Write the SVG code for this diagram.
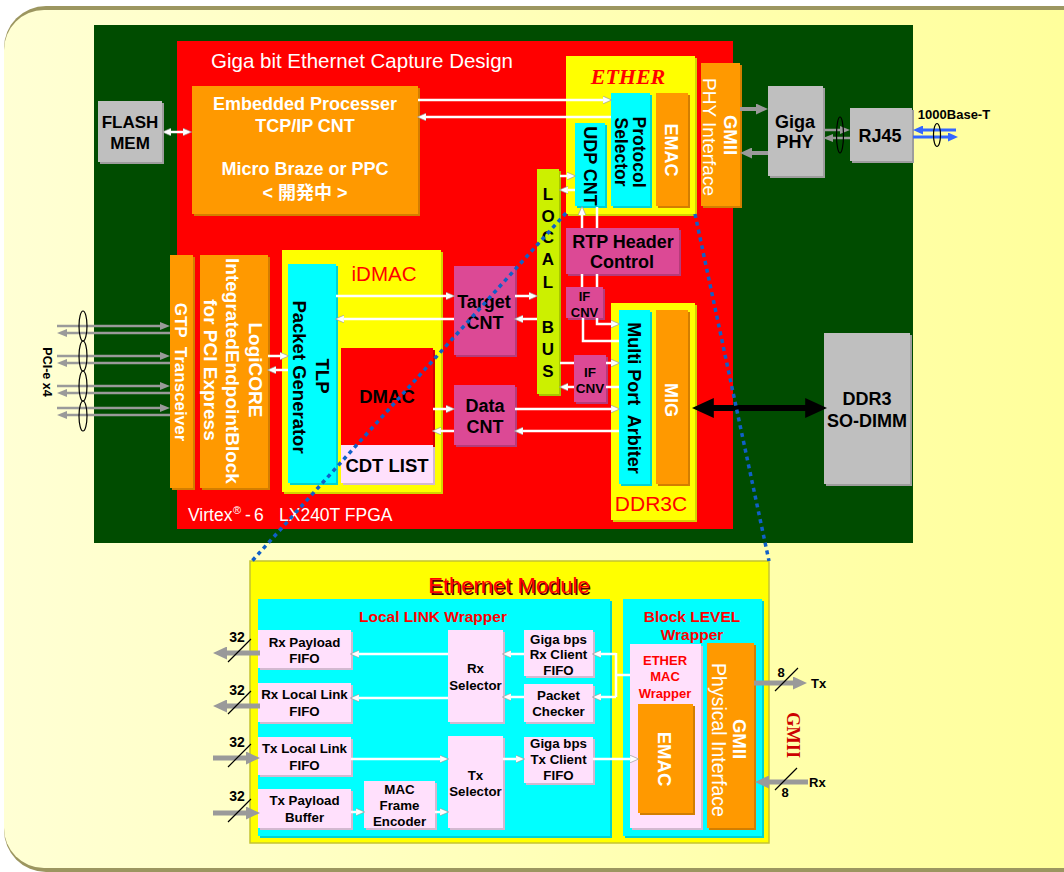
<svg xmlns="http://www.w3.org/2000/svg" width="1064" height="872" viewBox="0 0 1064 872">
<defs>
<style>
text{font-family:"Liberation Sans",Arial,"Noto Sans CJK JP",sans-serif}
.bx{filter:url(#sh)}
.o{fill:#FF9900}.cy{fill:#00FFFF}.ye{fill:#FFFF00}.gr{fill:#BFBFBF}.pk{fill:#DC4A95}.lp{fill:#FFE0FC}.lb{fill:#CCF000}
.b{font-weight:bold}.m{text-anchor:middle}.w{fill:#fff}.r{fill:#FF0000}.k{fill:#000}
.wl{fill:none;stroke:#fff;stroke-width:2.5}
.ah{marker-end:url(#aw)}
.gl{fill:none;stroke:#9A9A9A;stroke-width:4;marker-end:url(#ag)}
.gt{fill:none;stroke:#9A9A9A;stroke-width:2.5;marker-end:url(#ag2)}
.gb{fill:none;stroke:#9A9A9A;stroke-width:5;marker-end:url(#agb)}
.el{fill:none;stroke:#000;stroke-width:1.2}
.sl{stroke:#000;stroke-width:1.2}
.dot{fill:none;stroke:#1060C8;stroke-width:3.5;stroke-dasharray:4 4}
</style>
<linearGradient id="bg" x1="0" y1="0" x2="1" y2="0"><stop offset="0" stop-color="#FFFFD4"/><stop offset="1" stop-color="#FFFF99"/></linearGradient>
<filter id="sh" x="-0.2" y="-0.2" width="1.4" height="1.4">
<feColorMatrix in="SourceGraphic" type="matrix" values="0.65 0 0 0 0 0 0.65 0 0 0 0 0 0.65 0 0 0 0 0 1 0" result="d"/>
<feOffset in="d" dx="2" dy="2" result="o"/>
<feMerge><feMergeNode in="o"/><feMergeNode in="SourceGraphic"/></feMerge>
</filter>
<marker id="aw" viewBox="0 0 10 10" refX="6" refY="5" markerWidth="9" markerHeight="8" markerUnits="userSpaceOnUse" orient="auto-start-reverse" preserveAspectRatio="none"><path d="M0,0 L10,5 L0,10 Z" fill="#fff" stroke="#999" stroke-width="0.8"/></marker>
<marker id="ag" viewBox="0 0 10 10" refX="5" refY="5" markerWidth="12" markerHeight="11" markerUnits="userSpaceOnUse" orient="auto" preserveAspectRatio="none"><path d="M0,0 L10,5 L0,10 Z" fill="#9A9A9A"/></marker>
<marker id="ag2" viewBox="0 0 10 10" refX="5" refY="5" markerWidth="10" markerHeight="8" markerUnits="userSpaceOnUse" orient="auto" preserveAspectRatio="none"><path d="M0,0 L10,5 L0,10 Z" fill="#9A9A9A"/></marker>
<marker id="agb" viewBox="0 0 10 10" refX="5" refY="5" markerWidth="14" markerHeight="13" markerUnits="userSpaceOnUse" orient="auto" preserveAspectRatio="none"><path d="M0,0 L10,5 L0,10 Z" fill="#9A9A9A"/></marker>
<marker id="ab" viewBox="0 0 10 10" refX="5" refY="5" markerWidth="10" markerHeight="9" markerUnits="userSpaceOnUse" orient="auto" preserveAspectRatio="none"><path d="M0,0 L10,5 L0,10 Z" fill="#3366FF"/></marker>
<marker id="ak" viewBox="0 0 10 10" refX="4" refY="5" markerWidth="22" markerHeight="20" markerUnits="userSpaceOnUse" orient="auto-start-reverse" preserveAspectRatio="none"><path d="M0,0 L10,5 L0,10 Z" fill="#000"/></marker>
</defs>

<g id="background">
<rect x="4" y="6" width="1110" height="866" rx="42" fill="#9C9660"/>
<rect x="4" y="10" width="1110" height="858" rx="40" fill="url(#bg)"/>
<rect x="94" y="25" width="819" height="518" fill="#004C00"/>
<rect x="177" y="41" width="556" height="488" fill="#FF0000"/>
<text x="211" y="68" font-size="20.5" class="w">Giga bit Ethernet Capture Design</text>
<text x="188" y="521" font-size="17.5" class="w"><tspan>Virtex</tspan><tspan x="233" dy="-7" font-size="11">®</tspan><tspan x="245 254" dy="7">-6</tspan><tspan x="279">LX240T FPGA</tspan></text>
</g>

<g id="flash">
<rect x="98" y="101" width="64" height="61" class="gr bx"/>
<text x="130" y="128" font-size="17" class="b m">FLASH</text>
<text x="130" y="149" font-size="17" class="b m">MEM</text>
</g>
<g id="embedded">
<rect x="192" y="86" width="226" height="128" class="o bx"/>
<text x="305" y="110" font-size="18" class="b m w">Embedded Processer</text>
<text x="305" y="132" font-size="18" class="b m w">TCP/IP CNT</text>
<text x="305" y="175" font-size="18" class="b m w">Micro Braze or PPC</text>
<text x="305" y="199" font-size="18" class="b m w">&lt; 開発中 &gt;</text>
</g>
<g id="ether">
<rect x="566" y="56" width="129" height="158" class="ye bx"/>
<text x="628" y="84" font-size="22" font-weight="bold" font-style="italic" class="m r" style="font-family:'Liberation Serif',serif">ETHER</text>
</g>
<g id="protocol-selector">
<rect x="611" y="93" width="39" height="113" class="cy bx"/>
<text font-size="17.5" class="b m" transform="translate(639,152) rotate(90)" y="6.3">Protocol</text>
<text font-size="17.5" class="b m" transform="translate(621,152) rotate(90)" y="6.3">Selector</text>
</g>
<g id="emac-top">
<rect x="656" y="93" width="32" height="113" class="o bx"/>
<text font-size="18" class="b m w" transform="translate(671,150) rotate(90)" y="6.4">EMAC</text>
</g>
<g id="udp-cnt">
<rect x="575" y="123" width="30" height="83" class="cy bx"/>
<text font-size="18" class="b m" transform="translate(590,166) rotate(90)" y="6.4">UDP CNT</text>
</g>
<g id="gmii-phy-if">
<rect x="701" y="63" width="39" height="143" class="o bx"/>
<text font-size="18.5" class="b m w" transform="translate(731,135) rotate(90)" y="6.6">GMII</text>
<text font-size="19" class="m w" transform="translate(710,137) rotate(90)" y="6.8">PHY Interface</text>
</g>
<g id="giga-phy">
<rect x="768" y="86" width="55" height="90" class="gr bx"/>
<text x="795" y="128" font-size="18" class="b m">Giga</text>
<text x="795" y="148" font-size="18" class="b m">PHY</text>
</g>
<g id="rj45">
<rect x="850" y="108" width="62" height="53" class="gr bx"/>
<text x="880" y="142" font-size="18" class="b m">RJ45</text>
<text x="954" y="119" font-size="13" class="b m">1000Base-T</text>
</g>
<g id="pcie-label">
<text font-size="12.5" class="b m" transform="translate(47,372) rotate(90)" y="4.5">PCI-e x4</text>
</g>
<g id="gtp">
<rect x="170" y="255" width="23" height="233" class="o bx"/>
<text font-size="17" class="b m w" style="white-space:pre" transform="translate(181,372) rotate(90)" y="6.1">GTP  Transceiver</text>
</g>
<g id="logicore">
<rect x="200" y="255" width="68" height="233" class="o bx"/>
<text font-size="19" class="b m w" transform="translate(256,370) rotate(90)" y="6.8">LogiCORE</text>
<text font-size="19" class="b m w" transform="translate(233,371) rotate(90)" y="6.8">IntegratedEndpointBlock</text>
<text font-size="19" class="b m w" transform="translate(211,370) rotate(90)" y="6.8">for PCI Express</text>
</g>
<g id="idmac">
<rect x="282" y="250" width="159" height="242" class="ye bx"/>
<text x="384" y="281" font-size="20.5" class="m r">iDMAC</text>
</g>
<g id="tlp">
<rect x="288" y="264" width="48" height="219" class="cy bx"/>
<text font-size="18.5" class="b m" transform="translate(323,376) rotate(90)" y="6.6">TLP</text>
<text font-size="18.5" class="b m" transform="translate(300,377) rotate(90)" y="6.6">Packet Generator</text>
</g>
<g id="dmac">
<rect x="341" y="348" width="92" height="97" fill="#FF0000" class="bx"/>
<text x="387" y="403" font-size="18.5" class="b m">DMAC</text>
</g>
<g id="cdt-list">
<rect x="341" y="445" width="92" height="38" class="lp bx"/>
<text x="387" y="472" font-size="18.5" class="b m">CDT LIST</text>
</g>
<g id="target-cnt">
<rect x="454" y="266" width="61" height="89" class="pk bx"/>
<text x="484" y="308" font-size="18" class="b m">Target</text>
<text x="485" y="329" font-size="18" class="b m">CNT</text>
</g>
<g id="data-cnt">
<rect x="454" y="385" width="61" height="60" class="pk bx"/>
<text x="485" y="412" font-size="18" class="b m">Data</text>
<text x="485" y="433" font-size="18" class="b m">CNT</text>
</g>
<g id="local-bus">
<rect x="537" y="169" width="22" height="225" class="lb bx"/>
<g font-size="17" class="b m">
<text x="548" y="200">L</text><text x="548" y="222">O</text><text x="548" y="243">C</text><text x="548" y="265">A</text><text x="548" y="288">L</text>
<text x="548" y="333">B</text><text x="548" y="355">U</text><text x="548" y="377">S</text>
</g>
</g>
<g id="rtp">
<rect x="566" y="228" width="113" height="46" class="pk bx"/>
<text x="623" y="248" font-size="18" class="b m">RTP Header</text>
<text x="622" y="268" font-size="18" class="b m">Control</text>
</g>
<g id="ddr3c">
<rect x="611" y="303" width="84" height="217" class="ye bx"/>
<text x="651" y="511" font-size="21" class="m r">DDR3C</text>
</g>
<g id="multi-port">
<rect x="619" y="310" width="31" height="174" class="cy bx"/>
<text font-size="18" class="b m" style="white-space:pre" transform="translate(634,398) rotate(90)" y="6.4">Multi Port  Arbiter</text>
</g>
<g id="mig">
<rect x="656" y="310" width="32" height="174" class="o bx"/>
<text font-size="18" class="b m w" transform="translate(671,400) rotate(90)" y="6.4">MIG</text>
</g>
<g id="ddr3-sodimm">
<rect x="824" y="333" width="86" height="151" class="gr bx"/>
<text x="867" y="405" font-size="18" class="b m">DDR3</text>
<text x="867" y="427" font-size="18" class="b m">SO-DIMM</text>
</g>

<g id="ethernet-module">
<rect x="250" y="561" width="519" height="282" fill="#FFFF00" stroke="#C4C430" stroke-width="1.5"/>
<text x="510.5" y="594.5" font-size="22" class="m" fill="#500000">Ethernet Module</text>
<text x="509" y="593" font-size="22" class="m r">Ethernet Module</text>
</g>
<g id="local-link-wrapper">
<rect x="258" y="599" width="352" height="237" class="cy bx"/>
<text x="433" y="622" font-size="15.5" class="b m r">Local LINK Wrapper</text>
</g>
<g id="block-level-wrapper">
<rect x="623" y="599" width="139" height="237" class="cy bx"/>
<text x="692" y="622" font-size="15.5" class="b m r">Block LEVEL</text>
<text x="692" y="640" font-size="15.5" class="b m r">Wrapper</text>
</g>
<g id="ether-mac-wrapper">
<rect x="630" y="644" width="71" height="184" class="lp bx"/>
<text x="665" y="665" font-size="13" class="b m r">ETHER</text>
<text x="665" y="681" font-size="13" class="b m r">MAC</text>
<text x="665" y="698" font-size="13" class="b m r">Wrapper</text>
</g>
<g id="emac-bottom">
<rect x="638" y="704" width="55" height="109" class="o bx"/>
<text font-size="18.5" class="b m w" transform="translate(665,759) rotate(90)" y="6.6">EMAC</text>
</g>
<g id="gmii-physical">
<rect x="707" y="643" width="47" height="185" class="o bx"/>
<text font-size="18.5" class="b m w" transform="translate(740,739) rotate(90)" y="6.6">GMII</text>
<text font-size="19.5" class="m w" transform="translate(719,740) rotate(90)" y="7">Physical Interface</text>
</g>
<g id="gmii-label">
<text font-size="18.5" font-weight="bold" class="m" fill="#CC0000" style="font-family:'Liberation Serif',serif" transform="translate(793,735) rotate(90)" y="6.3">GMII</text>
</g>
<g id="rx-payload-fifo">
<rect x="258" y="630" width="93" height="38" class="lp bx"/>
<text x="304.5" y="647" font-size="13.3" class="b m">Rx Payload</text>
<text x="304.5" y="663" font-size="13.3" class="b m">FIFO</text>
</g>
<g id="rx-local-link-fifo">
<rect x="258" y="683" width="93" height="39" class="lp bx"/>
<text x="304.5" y="699" font-size="13.3" class="b m">Rx Local Link</text>
<text x="304.5" y="716" font-size="13.3" class="b m">FIFO</text>
</g>
<g id="tx-local-link-fifo">
<rect x="258" y="737" width="93" height="38" class="lp bx"/>
<text x="304.5" y="753" font-size="13.3" class="b m">Tx Local Link</text>
<text x="304.5" y="770" font-size="13.3" class="b m">FIFO</text>
</g>
<g id="tx-payload-buffer">
<rect x="258" y="789" width="93" height="39" class="lp bx"/>
<text x="304.5" y="805" font-size="13.3" class="b m">Tx Payload</text>
<text x="304.5" y="822" font-size="13.3" class="b m">Buffer</text>
</g>
<g id="mac-frame-encoder">
<rect x="364" y="781" width="71" height="47" class="lp bx"/>
<text x="399.5" y="794" font-size="13.3" class="b m">MAC</text>
<text x="399.5" y="810" font-size="13.3" class="b m">Frame</text>
<text x="399.5" y="826" font-size="13.3" class="b m">Encoder</text>
</g>
<g id="rx-selector">
<rect x="448" y="630" width="55" height="92" class="lp bx"/>
<text x="475.5" y="673" font-size="13.3" class="b m">Rx</text>
<text x="475.5" y="690" font-size="13.3" class="b m">Selector</text>
</g>
<g id="tx-selector">
<rect x="448" y="736" width="55" height="92" class="lp bx"/>
<text x="475.5" y="780" font-size="13.3" class="b m">Tx</text>
<text x="475.5" y="796" font-size="13.3" class="b m">Selector</text>
</g>
<g id="giga-rx-client">
<rect x="524" y="630" width="69" height="46" class="lp bx"/>
<text x="558.5" y="644" font-size="13.3" class="b m">Giga bps</text>
<text x="558.5" y="659" font-size="13.3" class="b m">Rx Client</text>
<text x="558.5" y="675" font-size="13.3" class="b m">FIFO</text>
</g>
<g id="packet-checker">
<rect x="524" y="684" width="69" height="38" class="lp bx"/>
<text x="558.5" y="700" font-size="13.3" class="b m">Packet</text>
<text x="558.5" y="716" font-size="13.3" class="b m">Checker</text>
</g>
<g id="giga-tx-client">
<rect x="524" y="737" width="69" height="46" class="lp bx"/>
<text x="558.5" y="748" font-size="13.3" class="b m">Giga bps</text>
<text x="558.5" y="764" font-size="13.3" class="b m">Tx Client</text>
<text x="558.5" y="780" font-size="13.3" class="b m">FIFO</text>
</g>

<g id="if-cnv-1">
<rect x="566" y="287" width="37" height="31" class="pk bx"/>
<text x="584.5" y="301" font-size="13" class="b m">IF</text>
<text x="584.5" y="317" font-size="13" class="b m">CNV</text>
</g>
<g id="if-cnv-2">
<rect x="574" y="355" width="32" height="47" class="pk bx"/>
<text x="590" y="377" font-size="13.5" class="b m">IF</text>
<text x="590" y="393" font-size="13.5" class="b m">CNV</text>
</g>

<g id="connectors">
<path class="wl" d="M166,132 H188" marker-start="url(#aw)" marker-end="url(#aw)"/>
<path class="wl ah" d="M418,100 H608"/>
<path class="wl ah" d="M611,117 H421"/>
<path class="wl ah" d="M560,176 H572"/>
<path class="wl ah" d="M575,190 H563"/>
<path class="wl ah" d="M582,228 V210"/>
<path class="wl" d="M597,207 V228"/>
<path class="wl" d="M582,274 V287 M597,274 V287"/>
<path class="wl ah" d="M597,318 V324 H616"/>
<path class="wl" d="M583,318 V341 H619"/>
<path class="wl" d="M560,363 H574"/>
<path class="wl ah" d="M606,363 H616"/>
<path class="wl" d="M619,387 H606"/>
<path class="wl ah" d="M574,387 H563"/>
<path class="wl ah" d="M336,296 H451"/>
<path class="wl ah" d="M454,319 H339"/>
<path class="wl ah" d="M515,296 H534"/>
<path class="wl ah" d="M537,319 H518"/>
<path class="wl ah" d="M433,409 H451"/>
<path class="wl ah" d="M454,431 H436"/>
<path class="wl ah" d="M515,409 H616"/>
<path class="wl ah" d="M619,431 H518"/>
<path class="wl ah" d="M268,356 H285"/>
<path class="wl ah" d="M288,370 H271"/>
<path class="gl" d="M740,109 H762"/>
<path class="gl" d="M768,153 H746"/>
<path class="gt" d="M823,130 H845"/>
<path class="gt" d="M850,138 H828"/>
<ellipse class="el" cx="840" cy="135" rx="3.5" ry="18"/>
<path fill="none" stroke="#3366FF" stroke-width="3" marker-end="url(#ab)" d="M956,130 H918"/>
<path fill="none" stroke="#3366FF" stroke-width="3" marker-end="url(#ab)" d="M913,137 H953"/>
<ellipse class="el" cx="937" cy="135" rx="3.5" ry="11.5"/>
<path fill="none" stroke="#000" stroke-width="6" marker-start="url(#ak)" marker-end="url(#ak)" d="M705,408 H814"/>
<path class="gt" d="M57,326 H165"/><path class="gt" d="M170,333 H62"/>
<path class="gt" d="M57,356 H165"/><path class="gt" d="M170,363 H62"/>
<path class="gt" d="M57,386 H165"/><path class="gt" d="M170,393 H62"/>
<path class="gt" d="M57,408 H165"/><path class="gt" d="M170,415 H62"/>
<ellipse class="el" cx="83" cy="326" rx="4" ry="15"/>
<ellipse class="el" cx="83" cy="356" rx="4" ry="15"/>
<ellipse class="el" cx="83" cy="386" rx="4" ry="15"/>
<ellipse class="el" cx="83" cy="416" rx="4" ry="15"/>
<path class="wl ah" d="M448,654 H354"/>
<path class="wl ah" d="M448,698 H354"/>
<path class="wl ah" d="M524,654 H506"/>
<path class="wl ah" d="M524,697 H506"/>
<path class="wl" d="M630,675 H616 M616,653 V697"/>
<path class="wl ah" d="M616,654 H596"/>
<path class="wl ah" d="M616,697 H596"/>
<path class="wl ah" d="M351,759 H445"/>
<path class="wl ah" d="M351,812 H361"/>
<path class="wl ah" d="M435,812 H445"/>
<path class="wl ah" d="M503,759 H521"/>
<path class="wl ah" d="M593,759 H635"/>
<path class="gb" d="M260,653 H220"/>
<path class="gb" d="M260,706 H220"/>
<path class="gb" d="M213,758 H253"/>
<path class="gb" d="M213,813 H253"/>
<path class="sl" d="M228,662 L251,639 M228,714 L251,691 M228,767 L251,744 M228,822 L251,799"/>
<g font-size="14" class="b m"><text x="237" y="642">32</text><text x="237" y="695">32</text><text x="237" y="747">32</text><text x="237" y="801">32</text></g>
<path class="gb" d="M754,683 H800"/>
<path class="gb" d="M808,782 H762"/>
<path class="sl" d="M775,691 L798,668 M775,790 L797,768"/>
<text x="781" y="677" font-size="13" class="b m">8</text>
<text x="785" y="797" font-size="13" class="b m">8</text>
<text x="811" y="688" font-size="13" class="b">Tx</text>
<text x="809" y="787" font-size="13" class="b">Rx</text>
</g>

<g id="zoom-lines">
<path class="dot" d="M566,213 L252,561"/>
<path class="dot" d="M695,214 L769,561"/>
</g>
</svg>
